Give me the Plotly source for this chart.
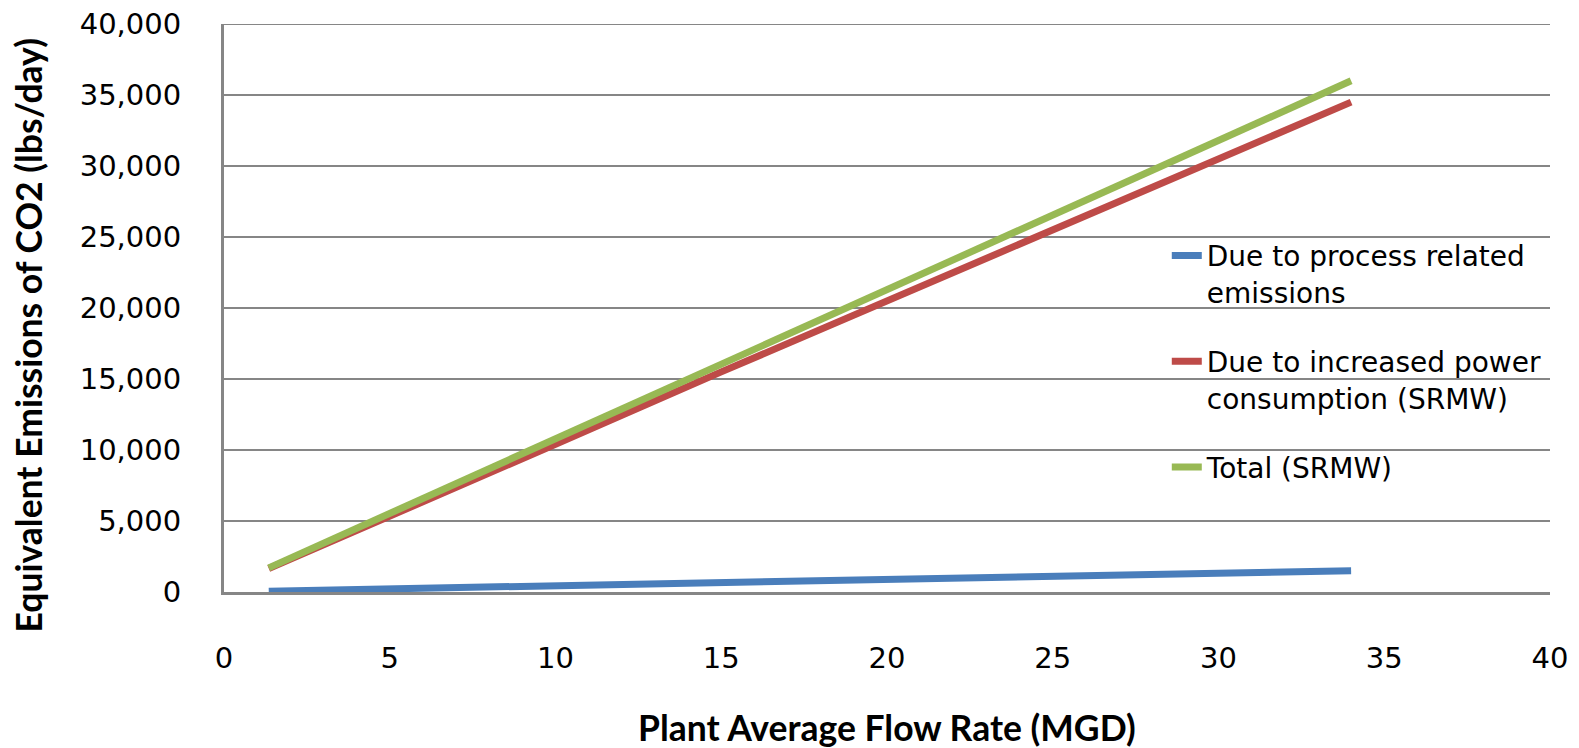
import plotly.graph_objects as go

flow = [1.35, 5, 10, 15, 20, 25, 30, 34]
process = [60, 220, 440, 660, 880, 1100, 1320, 1500]
power = [1650, 5300, 10400, 15500, 20500, 25500, 30500, 34500]
total = [1700, 5530, 10780, 16030, 21280, 26530, 31780, 36000]

names = ["Due to process related<br>emissions",
         "Due to increased power<br>consumption (SRMW)",
         "Total (SRMW)"]
colors = ["#4a7ebb", "#be4b48", "#98b954"]
x_ticks = [0, 5, 10, 15, 20, 25, 30, 35, 40]
y_ticks = [0, 5000, 10000, 15000, 20000, 25000, 30000, 35000, 40000]

fig = go.Figure()
for i, (ys, nm, c) in enumerate(zip([process, power, total], names, colors)):
    fig.add_trace(go.Scatter(x=flow, y=ys, mode="lines", name=nm,
                             legendgroup=f"g{i}",
                             line=dict(color=c, width=7)))

tick_font = dict(family="DejaVu Sans", size=29, color="black")
title_font = dict(family="Lato", size=35.5, color="black")
grid_color = "#868686"

fig.update_layout(
    width=1571, height=740,
    margin=dict(l=216, r=29, t=16, b=156),
    paper_bgcolor="white", plot_bgcolor="white",
    font=dict(family="DejaVu Sans", size=28, color="black"),
    showlegend=True,
    legend=dict(x=0.711, y=0.636, xanchor="left", yanchor="top",
                bgcolor="rgba(0,0,0,0)", valign="top",
                font=dict(family="DejaVu Sans", size=28, color="black"),
                tracegroupgap=30),
    xaxis=dict(range=[0, 40], tickvals=x_ticks, automargin=False,
               showgrid=False, zeroline=False, showline=True,
               linecolor=grid_color, linewidth=3, ticks="",
               ticklabelstandoff=38, tickfont=tick_font,
               ticklabeloverflow="allow"),
    yaxis=dict(range=[0, 40000], tickvals=y_ticks, automargin=False,
               tickformat=",d", showgrid=True, gridcolor=grid_color, gridwidth=2,
               zeroline=False, showline=True, linecolor=grid_color, linewidth=3,
               ticks="", ticklabelstandoff=34, tickfont=tick_font,
               ticklabeloverflow="allow"),
    annotations=[
        dict(text="<b>Plant Average Flow Rate (MGD)</b>", xref="paper", yref="paper",
             x=0.5, y=-0.2377, xanchor="center", yanchor="middle",
             showarrow=False, font=title_font),
        dict(text="<b>Equivalent Emissions of CO2 (lbs/day)</b>", xref="paper",
             yref="paper", x=-0.1467, y=0.4525, xanchor="center", yanchor="middle",
             textangle=-90, showarrow=False, font=title_font),
    ],
)
# top gridline (at the last y tick), which plotly drops at the plot edge
fig.add_hline(y=y_ticks[-1], line=dict(color=grid_color, width=2), layer="below")
fig.write_html("out.html")
